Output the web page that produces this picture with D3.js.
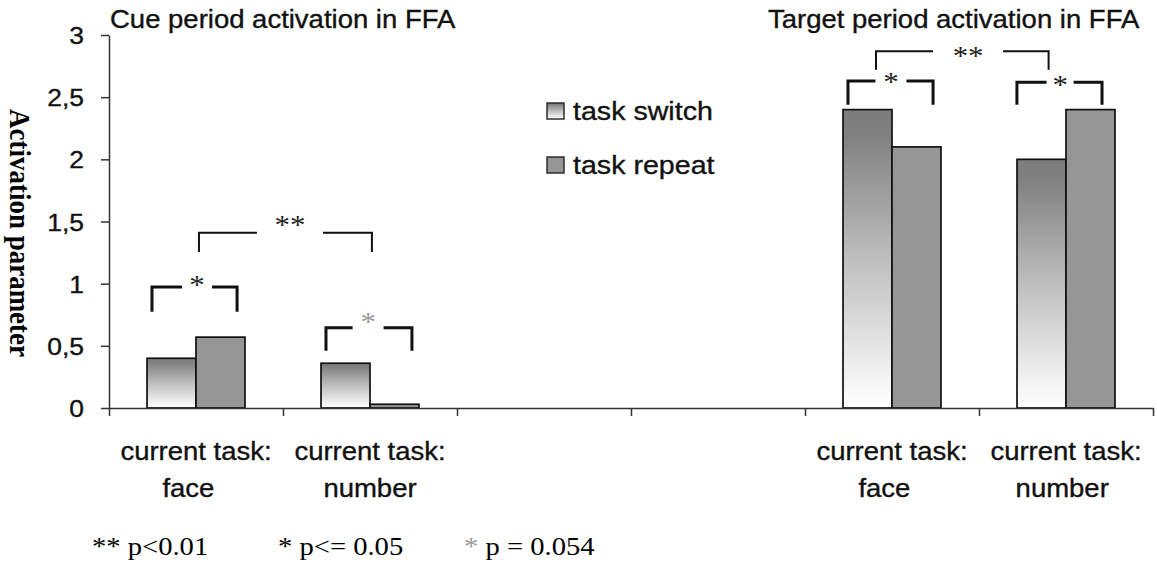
<!DOCTYPE html>
<html>
<head>
<meta charset="utf-8">
<script src="https://cdn.jsdelivr.net/npm/d3@7"></script>
<style>
  html, body { margin: 0; padding: 0; background: #fff; }
  svg { display: block; }
  text { white-space: pre; }
  text.sans { stroke: #111; stroke-width: 0.35px; }
</style>
</head>
<body>
<svg id="chart" width="1157" height="562"></svg>
<script>
// ---- data -------------------------------------------------------------
const categories = ["cue-face", "cue-number", "blank-1", "blank-2", "target-face", "target-number"];
const categoryLabels = [
  ["current task:", "face  "],
  ["current task:", "number"],
  [], [],
  ["current task:", "face  "],
  ["current task:", "number "]
];
const seriesNames = ["task switch", "task repeat"];
const switchValues = [0.40, 0.36, null, null, 2.40, 2.00];
const repeatValues = [0.57, 0.03, null, null, 2.10, 2.40];
const yTicks = [0, 0.5, 1, 1.5, 2, 2.5, 3];
const panelTitles = ["Cue period activation in FFA", "Target period activation in FFA"];
const yTitle = "Activation parameter";

// significance brackets: x in category units, y in activation units
const bracketFrom   = [0.247, 0.517, 1.247, 4.408, 4.247, 5.218];
const bracketTo     = [0.736, 1.511, 1.741, 5.400, 4.736, 5.707];
const bracketTop    = [0.973, 1.410, 0.645, 2.870, 2.630, 2.620];
const bracketFoot   = [0.775, 1.255, 0.460, 2.720, 2.440, 2.440];
const bracketLabel  = ["*", "**", "*", "**", "*", "*"];
const bracketLabelX = [0.506, 1.040, 1.489, 4.937, 4.494, 5.466];
const bracketLabelY = [1.030, 1.510, 0.730, 2.870, 2.660, 2.640];
const bracketGrey   = [false, false, true, false, false, false];

const footnotes = [
  { star: "**", text: " p<0.01", grey: false },
  { star: "*",  text: " p<= 0.05", grey: false },
  { star: "*",  text: " p = 0.054", grey: true }
];

// ---- layout -----------------------------------------------------------
const SX = 1.1;                     // horizontal stretch applied to all lettering
const svg = d3.select("#chart");
const plotL = 109, plotR = 1153, plotT = 35, plotB = 408;
const sans = "'Liberation Sans', Arial, sans-serif";
const serif = "'Liberation Serif', 'Times New Roman', serif";

const x = d3.scaleBand().domain(categories).range([plotL, plotR]).padding(0);
const xSub = d3.scaleBand().domain(seriesNames).range([0, x.bandwidth()])
  .paddingInner(0).paddingOuter(0.776);
const xUnits = d3.scaleLinear().domain([0, categories.length]).range([plotL, plotR]);
const y = d3.scaleLinear().domain([0, 3]).range([plotB, plotT]);

function place(sel, px, py, extra) {
  return sel.attr("transform", `translate(${px},${py}) scale(${SX},1)` + (extra || ""));
}

// gradient for the "task switch" bars (dark grey at top fading to white)
const defs = svg.append("defs");
const grad = defs.append("linearGradient").attr("id", "switchFill")
  .attr("x1", 0).attr("y1", 0).attr("x2", 0).attr("y2", 1);
grad.append("stop").attr("offset", "0").attr("stop-color", "#7d7d7d");
grad.append("stop").attr("offset", "0.08").attr("stop-color", "#808080");
grad.append("stop").attr("offset", "0.5").attr("stop-color", "#bebebe");
grad.append("stop").attr("offset", "0.92").attr("stop-color", "#f6f6f6");
grad.append("stop").attr("offset", "1").attr("stop-color", "#ffffff");
const fills = { "task switch": "url(#switchFill)", "task repeat": "#969696" };

// ---- bars -------------------------------------------------------------
const rows = categories.map((c, i) => ({ cat: c, vals: [switchValues[i], repeatValues[i]] }));
const barData = [];
rows.forEach(r => r.vals.forEach((v, j) => { if (v != null) barData.push({ cat: r.cat, s: seriesNames[j], v }); }));

svg.append("g").selectAll("rect").data(barData).join("rect")
  .attr("x", d => x(d.cat) + xSub(d.s))
  .attr("y", d => y(d.v))
  .attr("width", xSub.bandwidth())
  .attr("height", d => y(0) - y(d.v))
  .attr("fill", d => fills[d.s])
  .attr("stroke", "#111")
  .attr("stroke-width", 1.7);

// ---- axes -------------------------------------------------------------
const fmt = d => d3.format(".1~f")(d).replace(".", ",");
const yAxis = svg.append("g").attr("transform", `translate(${plotL},0)`)
  .call(d3.axisLeft(y).tickValues(yTicks).tickSize(8).tickSizeOuter(0).tickFormat(fmt));
yAxis.selectAll("path, line").attr("stroke", "#333").attr("stroke-width", 1.5);
yAxis.selectAll("text")
  .attr("class", "sans")
  .attr("font-family", sans).attr("font-size", 24).attr("fill", "#111")
  .attr("x", null).attr("dy", "0.36em")
  .attr("transform", `translate(-25,0) scale(${SX},1)`);

const xAxis = svg.append("g").attr("transform", `translate(0,${plotB})`)
  .call(d3.axisBottom(xUnits).tickValues(d3.range(0, categories.length + 1))
    .tickSize(8).tickSizeOuter(0).tickFormat(""));
xAxis.selectAll("path, line").attr("stroke", "#333").attr("stroke-width", 1.5);

// category labels (two lines each)
categories.forEach((c, i) => {
  categoryLabels[i].forEach((line, k) => {
    place(svg.append("text"), x(c) + x.bandwidth() / 2, 460 + k * 37)
      .attr("class", "sans")
      .attr("text-anchor", "middle")
      .attr("font-family", sans).attr("font-size", 25).attr("fill", "#111")
      .text(line);
  });
});

// ---- titles -----------------------------------------------------------
place(svg.append("text"), 110, 28).attr("class", "sans").attr("font-family", sans)
  .attr("font-size", 25).attr("fill", "#111").text(panelTitles[0]);
place(svg.append("text"), 768, 28).attr("class", "sans").attr("font-family", sans)
  .attr("font-size", 25).attr("fill", "#111").text(panelTitles[1]);

svg.append("text")
  .attr("transform", `translate(10,233) scale(${SX},1) rotate(90)`)
  .attr("text-anchor", "middle")
  .attr("font-family", serif).attr("font-weight", "bold").attr("font-size", 27)
  .attr("fill", "#000").text(yTitle);

// ---- legend -----------------------------------------------------------
seriesNames.forEach((s, i) => {
  const ly = 103 + i * 54;
  svg.append("rect").attr("x", 547).attr("y", ly).attr("width", 17).attr("height", 16)
    .attr("fill", fills[s]).attr("stroke", "#222").attr("stroke-width", 1.4);
  place(svg.append("text"), 573, ly + 17).attr("class", "sans")
    .attr("font-family", sans).attr("font-size", 26).attr("fill", "#111").text(s);
});

// ---- significance brackets -------------------------------------------
const gapHalf = [15, 33, 15.5, 35, 15.5, 13.5];
bracketLabel.forEach((lab, i) => {
  const x0 = xUnits(bracketFrom[i]), x1 = xUnits(bracketTo[i]);
  const yt = y(bracketTop[i]), yf = y(bracketFoot[i]);
  const lx = xUnits(bracketLabelX[i]);
  const thick = lab === "*";
  const g = svg.append("g").attr("fill", "none").attr("stroke", "#111")
    .attr("stroke-width", thick ? 3 : 2).attr("stroke-linecap", "butt");
  g.append("path").attr("d", `M${x0},${yf}V${yt}H${lx - gapHalf[i]}`);
  g.append("path").attr("d", `M${lx + gapHalf[i]},${yt}H${x1}V${yf}`);
  place(svg.append("text"), lx, y(bracketLabelY[i]) + 14)
    .attr("text-anchor", "middle")
    .attr("font-family", serif).attr("font-size", 28)
    .attr("fill", bracketGrey[i] ? "#9a9a9a" : "#222").text(lab);
});

// ---- footnote ---------------------------------------------------------
const noteX = [92, 278, 464];
footnotes.forEach((f, i) => {
  const t = place(svg.append("text"), noteX[i], 555)
    .attr("font-family", serif).attr("font-size", 26).attr("fill", "#000");
  t.append("tspan").attr("fill", f.grey ? "#9a9a9a" : "#000").text(f.star);
  t.append("tspan").text(f.text);
});
</script>
</body>
</html>
